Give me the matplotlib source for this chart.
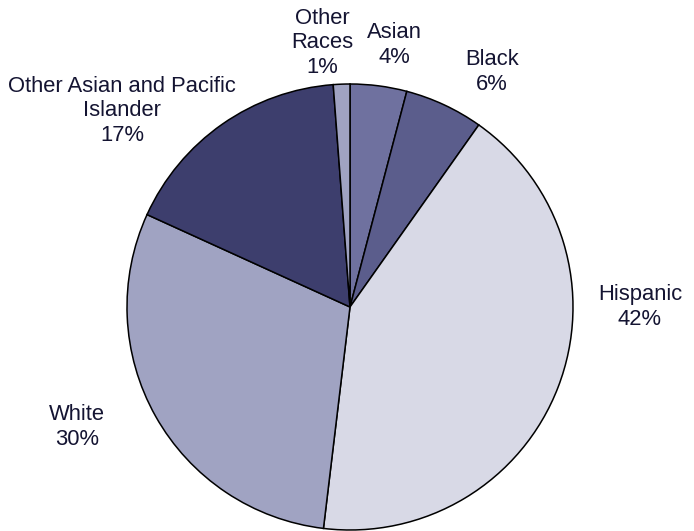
import matplotlib
matplotlib.use('Agg')
import matplotlib.pyplot as plt

# slice shares, clockwise from 12 o'clock
groups = ['Asian', 'Black', 'Hispanic', 'White', 'Other Asian and Pacific\nIslander', 'Other\nRaces']
shares = [4.1, 5.7, 42.1, 29.9, 17.0, 1.2]
colors = ['#6f719f', '#5b5d8c', '#d8d9e6', '#a0a3c2', '#3d3e6d', '#a0a3c2']

# label anchor points, in pie radius units
label_xy = [(0.20, 1.175), (0.637, 1.054), (1.30, 0.0), (-1.224, -0.538),
            (-1.022, 0.879), (-0.126, 1.184)]

plt.rcParams['font.family'] = ['Liberation Sans', 'DejaVu Sans']

fig = plt.figure(figsize=(6.94, 5.31), dpi=100)
W, H = 694, 531
cx, cy, r = 350, 307, 223
ax = fig.add_axes([(cx - r) / W, (H - cy - r) / H, 2 * r / W, 2 * r / H])

ax.pie(shares, colors=colors, startangle=90, counterclock=False,
       wedgeprops={'edgecolor': 'black', 'linewidth': 1.1})
ax.set_xlim(-1, 1)
ax.set_ylim(-1, 1)
ax.set_aspect('equal')
ax.axis('off')

for name, val, (x, y) in zip(groups, shares, label_xy):
    ax.text(x, y, '%s\n%.0f%%' % (name, val), ha='center', va='center',
            fontsize=15.8, color='#141432', linespacing=1.2, clip_on=False)

plt.savefig('out.png', dpi=100)
plt.close()
